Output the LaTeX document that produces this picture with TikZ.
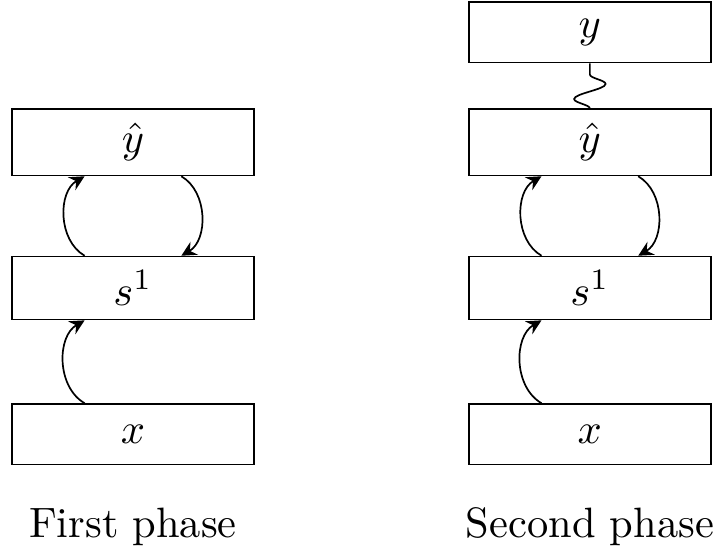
\documentclass[tikz,border=0pt]{standalone}
\usepackage{amsmath,amssymb}
\usepackage{tikz}
\usetikzlibrary{arrows.meta, positioning, decorations.pathmorphing}

\begin{document}
\begin{tikzpicture}[box/.style={draw, minimum width=2cm, minimum height=0.5cm}, >={Stealth[length=3.5pt, width=3.5pt, inset=1.2pt]}]
  \useasboundingbox (-1.10,-0.972) rectangle (4.84,3.593);
  \node[box] (x1) at (0,0) {$x$};
  \node[box] (s1) at (0,1.21) {$s^1$};
  \node[box] (yh1) at (0,2.415) {$\hat{y}$};
  \draw[->] ([xshift=-0.4cm]x1.north) to[bend left=60] ([xshift=-0.4cm]s1.south);
  \draw[->] ([xshift=-0.4cm]s1.north) to[bend left=60] ([xshift=-0.4cm]yh1.south);
  \draw[->] ([xshift=0.4cm]yh1.south) to[bend left=60] ([xshift=0.4cm]s1.north);
  \node[anchor=base] (lab1) at (0,-0.85) {First phase};

  \node[box] (x2) at (3.78,0) {$x$};
  \node[box] (s2) at (3.78,1.21) {$s^1$};
  \node[box] (yh2) at (3.78,2.415) {$\hat{y}$};
  \node[box] (y2) at (3.78,3.325) {$y$};
  \draw[->] ([xshift=-0.4cm]x2.north) to[bend left=60] ([xshift=-0.4cm]s2.south);
  \draw[->] ([xshift=-0.4cm]s2.north) to[bend left=60] ([xshift=-0.4cm]yh2.south);
  \draw[->] ([xshift=0.4cm]yh2.south) to[bend left=60] ([xshift=0.4cm]s2.north);
  \draw[decorate, decoration={snake, amplitude=0.13cm, segment length=0.25cm}] (yh2.north) -- (y2.south);
  \node[anchor=base] (lab2) at (3.78,-0.85) {Second phase};
\end{tikzpicture}
\end{document}
